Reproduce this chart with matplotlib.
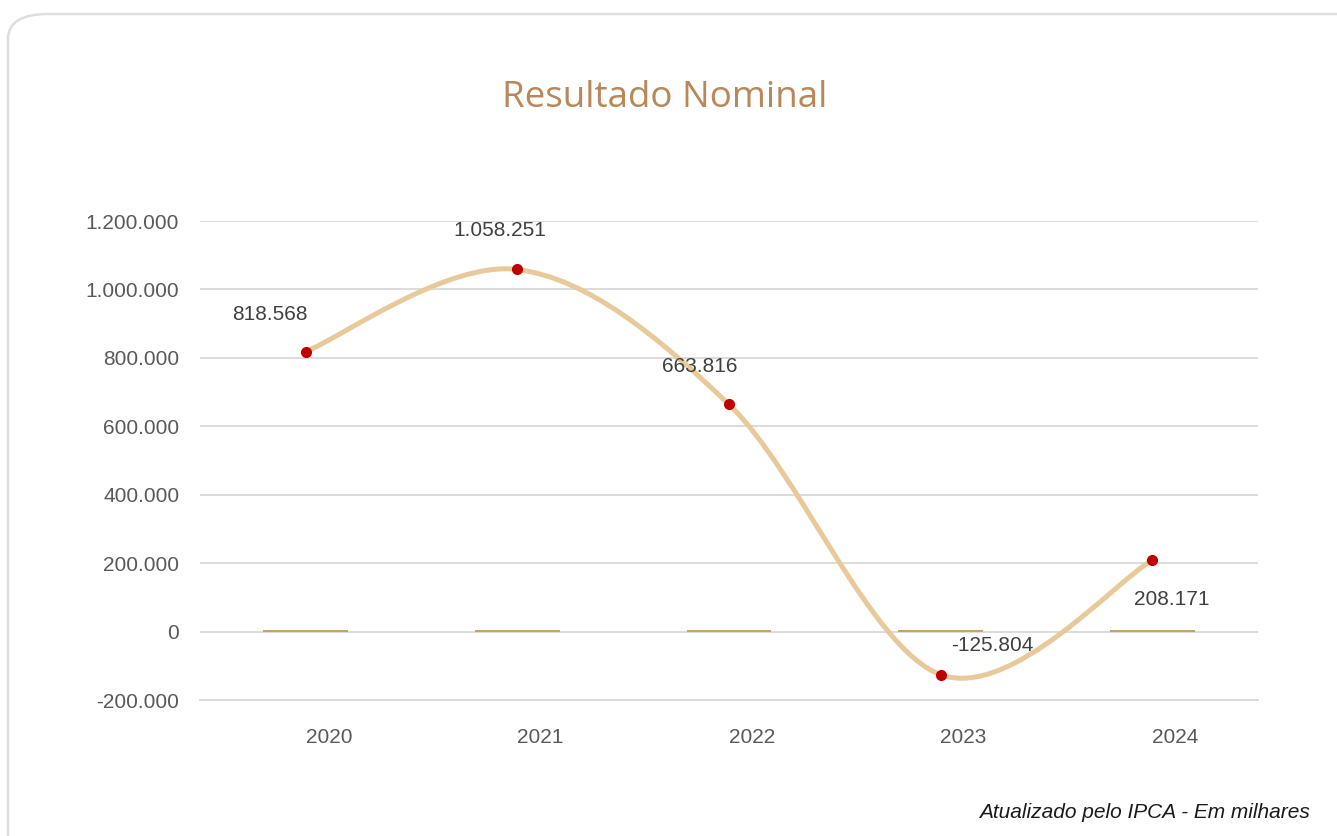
import matplotlib.pyplot as plt
import matplotlib.transforms as mtransforms
from matplotlib.path import Path
from matplotlib.patches import PathPatch, FancyBboxPatch
from matplotlib.ticker import FuncFormatter

# data
anos = ['2020', '2021', '2022', '2023', '2024']
resultado = [818568, 1058251, 663816, -125804, 208171]
barras = [5000, 5000, 5000, 5000, 5000]   # tiny bars sitting on zero
yticks = [-200000, 0, 200000, 400000, 600000, 800000, 1000000, 1200000]

# label offsets (points) for the data labels
label_off = [(-26, 27), (-13, 28), (-21, 27), (37, 21), (14, -28)]


def fmt_br(v, pos=None):
    return f"{v:,.0f}".replace(",", ".")


def smooth_path(xs, ys):
    # excel-like smoothed line: cubic bezier with catmull-rom control points
    n = len(xs)
    verts = [(xs[0], ys[0])]
    codes = [Path.MOVETO]
    for i in range(n - 1):
        x0, y0 = (xs[i - 1], ys[i - 1]) if i > 0 else (xs[i], ys[i])
        x1, y1 = xs[i], ys[i]
        x2, y2 = xs[i + 1], ys[i + 1]
        x3, y3 = (xs[i + 2], ys[i + 2]) if i + 2 < n else (x2, y2)
        c1 = (x1 + (x2 - x0) / 6, y1 + (y2 - y0) / 6)
        c2 = (x2 - (x3 - x1) / 6, y2 - (y3 - y1) / 6)
        verts += [c1, c2, (x2, y2)]
        codes += [Path.CURVE4] * 3
    return Path(verts, codes)


fig = plt.figure(figsize=(13.37, 8.36), dpi=100)
plt.rcParams['font.family'] = ['Liberation Sans', 'DejaVu Sans']

# rounded frame
frame = FancyBboxPatch((8 / 1337, -0.2), 1.2, 1.2 - 14 / 836,
                       boxstyle="round,pad=0,rounding_size=0.03",
                       transform=fig.transFigure, fill=False,
                       edgecolor='#dedede', linewidth=1.8)
fig.patches.append(frame)

ax = fig.add_axes([200 / 1337, 1 - 700 / 836, 1058 / 1337, 479 / 836])
x = list(range(len(anos)))

ax.bar(x, barras, width=0.4, color='#c9a25e', zorder=2)

path = smooth_path(x, resultado)
ax.add_patch(PathPatch(path, fill=False, edgecolor='#e8c99a', linewidth=3.6,
                       capstyle='round', zorder=3))
ax.plot(x, resultado, linestyle='none', marker='o', markersize=7,
        color='#c00000', zorder=4)

for i, v in enumerate(resultado):
    ax.annotate(fmt_br(v), (x[i], v), xytext=label_off[i], textcoords='offset points',
                ha='center', va='center', fontsize=15, color='#404040', zorder=5)

ax.set_xlim(-0.5, len(anos) - 0.5)
ax.set_ylim(-200000, 1200000)
ax.set_yticks(yticks)
ax.yaxis.set_major_formatter(FuncFormatter(fmt_br))
ax.set_xticks(x)
ax.set_xticklabels(anos)
ax.grid(axis='y', color='#d9d9d9', linewidth=1.3, zorder=0)
ax.set_axisbelow(True)
for s in ['top', 'right', 'left']:
    ax.spines[s].set_visible(False)
ax.spines['bottom'].set_color('#d9d9d9')
ax.spines['bottom'].set_linewidth(1.3)
ax.tick_params(length=0, labelsize=15, labelcolor='#595959')
ax.tick_params(axis='y', pad=15)
ax.tick_params(axis='x', pad=20)

# category labels sit a bit to the right in the original
shift = mtransforms.ScaledTranslation(23 / 100, 0, fig.dpi_scale_trans)
for lab in ax.get_xticklabels():
    lab.set_transform(lab.get_transform() + shift)

fig.text(665 / 1337, 1 - 98 / 836, 'Resultado Nominal', ha='center', va='center',
         fontsize=26.5, color='#b8875a', family=['Open Sans', 'DejaVu Sans'])
fig.text(1310 / 1337, 1 - 812 / 836, 'Atualizado pelo IPCA - Em milhares',
         ha='right', va='center', fontsize=15, style='italic', color='#1a1a1a')

fig.savefig('out.png', dpi=100)
